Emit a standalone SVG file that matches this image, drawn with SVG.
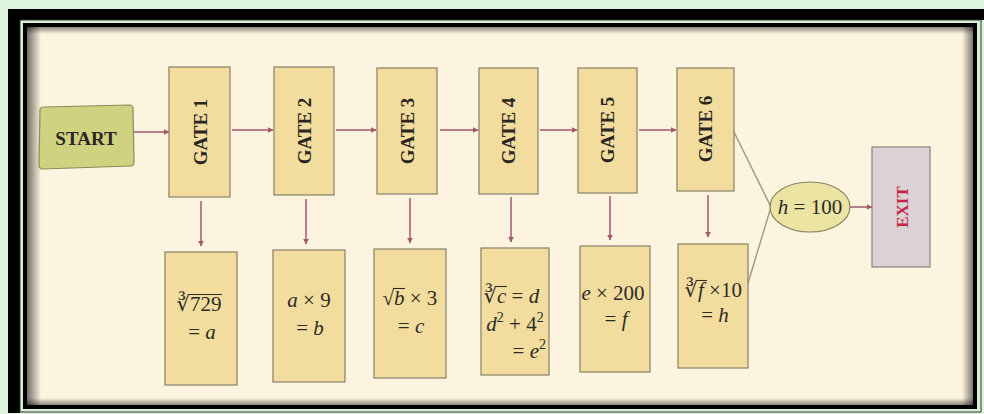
<svg xmlns="http://www.w3.org/2000/svg" width="984" height="414" viewBox="0 0 984 414">
<style>
.box{fill:#f2dd9e;stroke:#85806a;stroke-width:1.2}
.gate{font-family:"Liberation Serif",serif;font-weight:bold;font-size:19px;fill:#2b2622;text-anchor:middle;dominant-baseline:central}
.math{font-family:"Liberation Serif","DejaVu Serif",serif;font-size:21px;fill:#2e2a26;text-anchor:middle}
.st{text-anchor:start}
.en{text-anchor:end}
.it{font-style:italic}
.arr{stroke:#a45a6c;stroke-width:1.5;fill:none;marker-end:url(#ah)}
.ln{stroke:#a89a88;stroke-width:1.5;fill:none}
.vinc{stroke:#2e2a26;stroke-width:1.1}
</style>
<defs>
<marker id="ah" viewBox="0 0 10 10" refX="9" refY="5" markerWidth="6" markerHeight="6" orient="auto" markerUnits="userSpaceOnUse">
<path d="M0,0 L10,5 L0,10 z" fill="#a45a6c"/>
</marker>
<linearGradient id="shL" x1="0" y1="0" x2="1" y2="0">
<stop offset="0" stop-color="#000" stop-opacity="0.55"/>
<stop offset="1" stop-color="#000" stop-opacity="0"/>
</linearGradient>
<linearGradient id="shR" x1="1" y1="0" x2="0" y2="0">
<stop offset="0" stop-color="#000" stop-opacity="0.5"/>
<stop offset="1" stop-color="#000" stop-opacity="0"/>
</linearGradient>
<linearGradient id="shT" x1="0" y1="0" x2="0" y2="1">
<stop offset="0" stop-color="#000" stop-opacity="0.45"/>
<stop offset="1" stop-color="#000" stop-opacity="0"/>
</linearGradient>
<linearGradient id="shB" x1="0" y1="1" x2="0" y2="0">
<stop offset="0" stop-color="#000" stop-opacity="0.45"/>
<stop offset="1" stop-color="#000" stop-opacity="0"/>
</linearGradient>
</defs>

<!-- frame -->
<rect x="0" y="0" width="984" height="414" fill="#ddf3dc"/>
<rect x="8" y="9" width="976" height="11" fill="#000"/>
<rect x="8" y="9" width="12" height="404" fill="#000"/>
<rect x="20" y="20" width="961" height="392" fill="#d9f0d6" stroke="#2a3a2a" stroke-width="1"/>
<rect x="23" y="23" width="954" height="386" fill="#000"/>
<rect x="27" y="27" width="946" height="378" fill="#fcf4df"/>
<rect x="27" y="27" width="14" height="378" fill="url(#shL)"/>
<rect x="962" y="27" width="11" height="378" fill="url(#shR)"/>
<rect x="27" y="27" width="946" height="7" fill="url(#shT)"/>
<rect x="27" y="398" width="946" height="7" fill="url(#shB)"/>

<!-- connectors -->
<g id="connectors">
<line class="arr" x1="133" y1="132" x2="169" y2="132"/>
<line class="arr" x1="232" y1="130" x2="273" y2="130"/>
<line class="arr" x1="336" y1="130" x2="376" y2="130"/>
<line class="arr" x1="440" y1="130" x2="478" y2="130"/>
<line class="arr" x1="540" y1="130" x2="577" y2="130"/>
<line class="arr" x1="639" y1="130" x2="676" y2="130"/>
<line class="arr" x1="201" y1="201" x2="201" y2="246"/>
<line class="arr" x1="306" y1="199" x2="306" y2="244"/>
<line class="arr" x1="410" y1="198" x2="410" y2="243"/>
<line class="arr" x1="511" y1="197" x2="511" y2="242"/>
<line class="arr" x1="610" y1="196" x2="610" y2="240"/>
<line class="arr" x1="708" y1="195" x2="708" y2="237"/>
<line class="ln" x1="733" y1="130" x2="771" y2="207"/>
<line class="ln" x1="745" y1="293" x2="771" y2="207"/>
<line class="arr" x1="850" y1="207" x2="872" y2="207"/>
</g>

<g id="start">
<path d="M40,110 Q40,107 44,107 L129,105 Q133,105 133,109 L134,162 Q134,166 130,166 L43,169 Q39,169 39,165 Z" fill="#cfd27e" stroke="#8a8a5c" stroke-width="1.2"/>
<text class="gate" x="86" y="138">START</text>
</g>

<g id="gate1"><rect class="box" x="169" y="67" width="61" height="130"/><text class="gate" transform="translate(200,132) rotate(-90)">GATE 1</text></g>
<g id="gate2"><rect class="box" x="274" y="67" width="60" height="128"/><text class="gate" transform="translate(304,131) rotate(-90)">GATE 2</text></g>
<g id="gate3"><rect class="box" x="377" y="68" width="60" height="126"/><text class="gate" transform="translate(407,131) rotate(-90)">GATE 3</text></g>
<g id="gate4"><rect class="box" x="479" y="68" width="59" height="126"/><text class="gate" transform="translate(508,131) rotate(-90)">GATE 4</text></g>
<g id="gate5"><rect class="box" x="578" y="68" width="59" height="125"/><text class="gate" transform="translate(607,130) rotate(-90)">GATE 5</text></g>
<g id="gate6"><rect class="box" x="677" y="68" width="57" height="123"/><text class="gate" transform="translate(705,129) rotate(-90)">GATE 6</text></g>

<g id="calc1"><rect class="box" x="165" y="252" width="72" height="133"/>
<text class="math en" x="190" y="311">∛</text>
<text class="math st" x="190" y="311">729</text>
<line class="vinc" x1="189" y1="294.5" x2="222" y2="294.5"/>
<text class="math" x="202" y="339">= <tspan class="it">a</tspan></text></g>

<g id="calc2"><rect class="box" x="273" y="250" width="72" height="132"/>
<text class="math" x="309" y="307"><tspan class="it">a</tspan> × 9</text>
<text class="math" x="310" y="335">= <tspan class="it">b</tspan></text></g>

<g id="calc3"><rect class="box" x="374" y="249" width="72" height="129"/>
<text class="math en" x="394" y="305">√</text>
<text class="math st" x="394" y="305"><tspan class="it">b</tspan> × 3</text>
<line class="vinc" x1="393" y1="288.5" x2="405" y2="288.5"/>
<text class="math" x="411" y="333">= <tspan class="it">c</tspan></text></g>

<g id="calc4"><rect class="box" x="481" y="248" width="68" height="127"/>
<text class="math en" x="497" y="303">∛</text>
<text class="math st" x="497" y="303"><tspan class="it">c</tspan> = <tspan class="it">d</tspan></text>
<line class="vinc" x1="496" y1="286.5" x2="507" y2="286.5"/>
<text class="math" x="515" y="331"><tspan class="it">d</tspan><tspan font-size="14" dy="-9">2</tspan><tspan dy="9"> + 4</tspan><tspan font-size="14" dy="-9">2</tspan></text>
<text class="math en" x="546" y="358">= <tspan class="it">e</tspan><tspan font-size="14" dy="-9">2</tspan></text></g>

<g id="calc5"><rect class="box" x="580" y="246" width="70" height="126"/>
<text class="math" x="613" y="300"><tspan class="it">e</tspan> × 200</text>
<text class="math" x="616" y="326">= <tspan class="it">f</tspan></text></g>

<g id="calc6"><rect class="box" x="678" y="244" width="70" height="124"/>
<text class="math en" x="698" y="297">∛</text>
<text class="math st" x="698" y="297"><tspan class="it">f</tspan> ×10</text>
<line class="vinc" x1="697" y1="280.5" x2="707" y2="280.5"/>
<text class="math" x="715" y="322">= <tspan class="it">h</tspan></text></g>

<g id="check"><ellipse cx="810" cy="207" rx="40" ry="25" fill="#ebe4a2" stroke="#8a8460" stroke-width="1.2"/>
<text class="math" x="810" y="214"><tspan class="it">h</tspan> = 100</text></g>

<g id="exit"><rect x="872" y="147" width="58" height="120" fill="#dcd1d5" stroke="#8a7f82" stroke-width="1.2"/>
<text class="gate" transform="translate(902,207) rotate(-90)" style="fill:#c0284a;font-size:17px">EXIT</text></g>
</svg>
